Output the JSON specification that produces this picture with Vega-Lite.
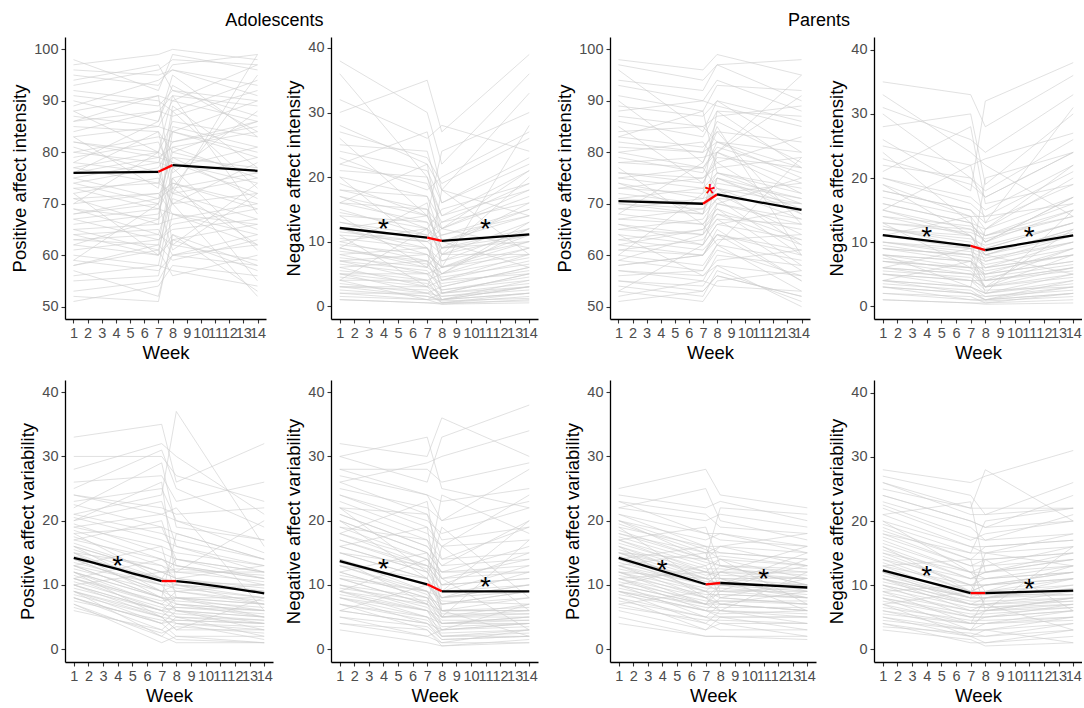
{
"$schema":"https://vega.github.io/schema/vega-lite/v6.json",
"padding":{"left":10,"top":12,"right":0,"bottom":0},
"autosize":{"type":"pad"},
"config":{"view":{"stroke":null},"font":"Liberation Sans",
"axis":{"grid":false,"domainColor":"black","domainWidth":1.3,"tickColor":"#333333","tickWidth":1.1,"tickSize":4,"labelFont":"Liberation Sans","labelFontSize":14.5,"labelColor":"#4d4d4d","labelPadding":3,"titleFont":"Liberation Sans","titleFontSize":18.5,"titleFontWeight":"normal","titleColor":"black"},
"axisX":{"titlePadding":3.5,"labelOverlap":false,"labelFlush":false},
"axisY":{"titlePadding":4,"labelOverlap":false},
"title":{"font":"Liberation Sans","fontSize":18,"fontWeight":"normal","color":"black","anchor":"middle","frame":"bounds","offset":7}},
"datasets":{
"wk":[{"k":"a","w":1},{"k":"b","w":7},{"k":"c","w":8},{"k":"d","w":14}],
"s":[
{"p":1,"g":"pre","w":1,"v":76.0},{"p":1,"g":"pre","w":7,"v":76.2},{"p":1,"g":"mid","w":7,"v":76.2},{"p":1,"g":"mid","w":8,"v":77.5},{"p":1,"g":"post","w":8,"v":77.5},{"p":1,"g":"post","w":14,"v":76.4},
{"p":2,"g":"pre","w":1,"v":12.1},{"p":2,"g":"pre","w":7,"v":10.6},{"p":2,"g":"mid","w":7,"v":10.6},{"p":2,"g":"mid","w":8,"v":10.1},{"p":2,"g":"post","w":8,"v":10.1},{"p":2,"g":"post","w":14,"v":11.1},
{"p":3,"g":"pre","w":1,"v":70.5},{"p":3,"g":"pre","w":7,"v":70.0},{"p":3,"g":"mid","w":7,"v":70.0},{"p":3,"g":"mid","w":8,"v":71.8},{"p":3,"g":"post","w":8,"v":71.8},{"p":3,"g":"post","w":14,"v":68.8},
{"p":4,"g":"pre","w":1,"v":11.1},{"p":4,"g":"pre","w":7,"v":9.4},{"p":4,"g":"mid","w":7,"v":9.4},{"p":4,"g":"mid","w":8,"v":8.75},{"p":4,"g":"post","w":8,"v":8.75},{"p":4,"g":"post","w":14,"v":11.05},
{"p":5,"g":"pre","w":1,"v":14.2},{"p":5,"g":"pre","w":2,"v":13.65},{"p":5,"g":"pre","w":3,"v":13.05},{"p":5,"g":"pre","w":4,"v":12.45},{"p":5,"g":"pre","w":5,"v":11.8},{"p":5,"g":"pre","w":6,"v":11.2},{"p":5,"g":"pre","w":7,"v":10.6},{"p":5,"g":"mid","w":7,"v":10.6},{"p":5,"g":"mid","w":8,"v":10.6},{"p":5,"g":"post","w":8,"v":10.6},{"p":5,"g":"post","w":9,"v":10.35},{"p":5,"g":"post","w":10,"v":10.05},{"p":5,"g":"post","w":11,"v":9.75},{"p":5,"g":"post","w":12,"v":9.4},{"p":5,"g":"post","w":13,"v":9.05},{"p":5,"g":"post","w":14,"v":8.7},
{"p":6,"g":"pre","w":1,"v":13.7},{"p":6,"g":"pre","w":7,"v":10.1},{"p":6,"g":"mid","w":7,"v":10.1},{"p":6,"g":"mid","w":8,"v":9.0},{"p":6,"g":"post","w":8,"v":9.0},{"p":6,"g":"post","w":14,"v":9.0},
{"p":7,"g":"pre","w":1,"v":14.2},{"p":7,"g":"pre","w":7,"v":10.1},{"p":7,"g":"mid","w":7,"v":10.1},{"p":7,"g":"mid","w":8,"v":10.3},{"p":7,"g":"post","w":8,"v":10.3},{"p":7,"g":"post","w":14,"v":9.6},
{"p":8,"g":"pre","w":1,"v":12.3},{"p":8,"g":"pre","w":7,"v":8.75},{"p":8,"g":"mid","w":7,"v":8.75},{"p":8,"g":"mid","w":8,"v":8.75},{"p":8,"g":"post","w":8,"v":8.75},{"p":8,"g":"post","w":14,"v":9.15}
],
"t":[
{"p":2,"w":4,"v":12.8,"c":"black"},{"p":2,"w":11,"v":12.8,"c":"black"},
{"p":3,"w":7.5,"v":73.1,"c":"red"},
{"p":4,"w":4,"v":11.8,"c":"black"},{"p":4,"w":11,"v":11.8,"c":"black"},
{"p":5,"w":4,"v":13.9,"c":"black"},
{"p":6,"w":4,"v":13.4,"c":"black"},{"p":6,"w":11,"v":10.6,"c":"black"},
{"p":7,"w":4,"v":13.2,"c":"black"},{"p":7,"w":11,"v":11.8,"c":"black"},
{"p":8,"w":4,"v":12.4,"c":"black"},{"p":8,"w":11,"v":10.3,"c":"black"}
],
"g":[
{"p":1,"i":1,"a":97,"b":99,"c":100,"d":98},{"p":1,"i":2,"a":95,"b":93,"c":97,"d":99},{"p":1,"i":3,"a":92,"b":90,"c":88,"d":94},{"p":1,"i":4,"a":89,"b":94,"c":96,"d":91},{"p":1,"i":5,"a":87,"b":85,"c":90,"d":97},{"p":1,"i":6,"a":85,"b":84,"c":80,"d":86},{"p":1,"i":7,"a":84,"b":88,"c":91,"d":89},{"p":1,"i":8,"a":82,"b":80,"c":86,"d":83},{"p":1,"i":9,"a":80,"b":78,"c":84,"d":79},{"p":1,"i":10,"a":79,"b":82,"c":76,"d":88},{"p":1,"i":11,"a":77,"b":74,"c":85,"d":81},{"p":1,"i":12,"a":76,"b":79,"c":78,"d":72},{"p":1,"i":13,"a":75,"b":71,"c":80,"d":76},{"p":1,"i":14,"a":74,"b":77,"c":82,"d":85},{"p":1,"i":15,"a":73,"b":69,"c":74,"d":70},{"p":1,"i":16,"a":72,"b":75,"c":70,"d":78},{"p":1,"i":17,"a":71,"b":66,"c":88,"d":73},{"p":1,"i":18,"a":70,"b":72,"c":68,"d":66},{"p":1,"i":19,"a":69,"b":64,"c":73,"d":62},{"p":1,"i":20,"a":68,"b":70,"c":81,"d":75},{"p":1,"i":21,"a":67,"b":63,"c":66,"d":69},{"p":1,"i":22,"a":66,"b":68,"c":79,"d":71},{"p":1,"i":23,"a":65,"b":61,"c":72,"d":67},{"p":1,"i":24,"a":64,"b":65,"c":60,"d":64},{"p":1,"i":25,"a":63,"b":62,"c":77,"d":61},{"p":1,"i":26,"a":62,"b":60,"c":64,"d":58},{"p":1,"i":27,"a":60,"b":58,"c":71,"d":65},{"p":1,"i":28,"a":58,"b":61,"c":56,"d":60},{"p":1,"i":29,"a":57,"b":52,"c":63,"d":57},{"p":1,"i":30,"a":55,"b":56,"c":68,"d":62},{"p":1,"i":31,"a":52,"b":51,"c":64,"d":53},{"p":1,"i":32,"a":51,"b":54,"c":58,"d":56},{"p":1,"i":33,"a":94,"b":97,"c":92,"d":87},{"p":1,"i":34,"a":90,"b":86,"c":95,"d":83},{"p":1,"i":35,"a":86,"b":91,"c":73,"d":95},{"p":1,"i":36,"a":83,"b":73,"c":89,"d":77},{"p":1,"i":37,"a":78,"b":86,"c":93,"d":84},{"p":1,"i":38,"a":98,"b":92,"c":99,"d":96},{"p":1,"i":39,"a":81,"b":76,"c":70,"d":52},{"p":1,"i":40,"a":62,"b":67,"c":84,"d":90},{"p":1,"i":41,"a":70,"b":80,"c":62,"d":74},{"p":1,"i":42,"a":76,"b":84,"c":72,"d":99},{"p":1,"i":43,"a":88,"b":80,"c":91,"d":68},{"p":1,"i":44,"a":59,"b":70,"c":61,"d":72},{"p":1,"i":45,"a":72,"b":60,"c":75,"d":55},
{"p":1,"i":46,"a":96,"b":95,"c":96,"d":93},{"p":1,"i":47,"a":93,"b":96,"c":98,"d":97},{"p":1,"i":48,"a":91,"b":89,"c":92,"d":90},{"p":1,"i":49,"a":86,"b":88,"c":87,"d":92},{"p":1,"i":50,"a":83,"b":85,"c":84,"d":80},{"p":1,"i":51,"a":80,"b":83,"c":82,"d":86},{"p":1,"i":52,"a":78,"b":76,"c":79,"d":77},{"p":1,"i":53,"a":75,"b":78,"c":77,"d":81},{"p":1,"i":54,"a":73,"b":74,"c":72,"d":75},{"p":1,"i":55,"a":71,"b":72,"c":74,"d":69},{"p":1,"i":56,"a":69,"b":67,"c":70,"d":72},{"p":1,"i":57,"a":67,"b":69,"c":68,"d":64},{"p":1,"i":58,"a":65,"b":66,"c":67,"d":70},{"p":1,"i":59,"a":63,"b":64,"c":62,"d":59},{"p":1,"i":60,"a":61,"b":63,"c":65,"d":67},{"p":1,"i":61,"a":59,"b":57,"c":60,"d":62},{"p":1,"i":62,"a":56,"b":58,"c":57,"d":54},{"p":1,"i":63,"a":53,"b":55,"c":60,"d":58},{"p":1,"i":64,"a":82,"b":79,"c":81,"d":84},{"p":1,"i":65,"a":77,"b":80,"c":78,"d":74},{"p":1,"i":66,"a":74,"b":70,"c":75,"d":79},{"p":1,"i":67,"a":68,"b":71,"c":73,"d":76},{"p":1,"i":68,"a":64,"b":60,"c":63,"d":66},{"p":1,"i":69,"a":88,"b":91,"c":90,"d":86},{"p":1,"i":70,"a":58,"b":62,"c":59,"d":63},
{"p":2,"i":1,"a":38,"b":30,"c":22,"d":36},{"p":2,"i":2,"a":32,"b":26,"c":28,"d":24},{"p":2,"i":3,"a":28,"b":22,"c":18,"d":33},{"p":2,"i":4,"a":25,"b":24,"c":16,"d":22},{"p":2,"i":5,"a":23,"b":18,"c":20,"d":27},{"p":2,"i":6,"a":21,"b":20,"c":14,"d":18},{"p":2,"i":7,"a":19,"b":14,"c":12,"d":21},{"p":2,"i":8,"a":18,"b":17,"c":10,"d":15},{"p":2,"i":9,"a":17,"b":12,"c":15,"d":19},{"p":2,"i":10,"a":16,"b":15,"c":8,"d":13},{"p":2,"i":11,"a":15,"b":11,"c":13,"d":16},{"p":2,"i":12,"a":14,"b":13,"c":7,"d":12},{"p":2,"i":13,"a":13,"b":10,"c":11,"d":14},{"p":2,"i":14,"a":12,"b":14,"c":9,"d":10},{"p":2,"i":15,"a":12,"b":8,"c":6,"d":11},{"p":2,"i":16,"a":11,"b":10,"c":12,"d":9},{"p":2,"i":17,"a":10,"b":7,"c":5,"d":13},{"p":2,"i":18,"a":10,"b":12,"c":8,"d":8},{"p":2,"i":19,"a":9,"b":6,"c":9,"d":11},{"p":2,"i":20,"a":8,"b":9,"c":4,"d":7},{"p":2,"i":21,"a":8,"b":5,"c":6,"d":10},{"p":2,"i":22,"a":7,"b":8,"c":3,"d":6},{"p":2,"i":23,"a":7,"b":4,"c":5,"d":9},{"p":2,"i":24,"a":6,"b":7,"c":2,"d":5},{"p":2,"i":25,"a":6,"b":3,"c":4,"d":8},{"p":2,"i":26,"a":5,"b":5,"c":1,"d":4},{"p":2,"i":27,"a":5,"b":2,"c":3,"d":6},{"p":2,"i":28,"a":4,"b":4,"c":1,"d":3},{"p":2,"i":29,"a":4,"b":1,"c":2,"d":5},{"p":2,"i":30,"a":3,"b":3,"c":0.5,"d":2},{"p":2,"i":31,"a":3,"b":1.5,"c":1,"d":3},{"p":2,"i":32,"a":2,"b":2,"c":0.5,"d":1.5},{"p":2,"i":33,"a":2,"b":1,"c":1,"d":2},{"p":2,"i":34,"a":1.5,"b":1,"c":0.3,"d":1},{"p":2,"i":35,"a":1,"b":0.5,"c":0.5,"d":0.8},{"p":2,"i":36,"a":36,"b":20,"c":12,"d":18},{"p":2,"i":37,"a":30,"b":35,"c":27,"d":39},{"p":2,"i":38,"a":26,"b":14,"c":24,"d":30},{"p":2,"i":39,"a":22,"b":27,"c":18,"d":14},{"p":2,"i":40,"a":9,"b":16,"c":6,"d":28},{"p":2,"i":41,"a":14,"b":6,"c":18,"d":8},{"p":2,"i":42,"a":20,"b":9,"c":5,"d":12},{"p":2,"i":43,"a":4,"b":12,"c":2,"d":3},{"p":2,"i":44,"a":11,"b":3,"c":8,"d":20},{"p":2,"i":45,"a":16,"b":22,"c":10,"d":6},
{"p":2,"i":46,"a":1,"b":0.5,"c":0.3,"d":0.5},{"p":2,"i":47,"a":2.5,"b":1.5,"c":0.8,"d":1.2},{"p":2,"i":48,"a":3.5,"b":2,"c":1.5,"d":2.5},{"p":2,"i":49,"a":4.5,"b":3,"c":2,"d":3.5},{"p":2,"i":50,"a":5.5,"b":4,"c":2.5,"d":4.5},{"p":2,"i":51,"a":6.5,"b":5,"c":3.5,"d":5.5},{"p":2,"i":52,"a":7.5,"b":6,"c":4.5,"d":6.5},{"p":2,"i":53,"a":8.5,"b":7,"c":5,"d":7.5},{"p":2,"i":54,"a":9.5,"b":8,"c":6,"d":9},{"p":2,"i":55,"a":10.5,"b":9,"c":7,"d":10},{"p":2,"i":56,"a":11.5,"b":10,"c":8,"d":11},{"p":2,"i":57,"a":13,"b":11,"c":9,"d":12},{"p":2,"i":58,"a":14.5,"b":12,"c":10,"d":14},{"p":2,"i":59,"a":16,"b":13,"c":11,"d":15},{"p":2,"i":60,"a":18,"b":15,"c":12,"d":17},{"p":2,"i":61,"a":20,"b":17,"c":13,"d":19},{"p":2,"i":62,"a":22,"b":19,"c":14,"d":21},{"p":2,"i":63,"a":24,"b":21,"c":16,"d":23},{"p":2,"i":64,"a":3,"b":2.5,"c":1,"d":2},{"p":2,"i":65,"a":5,"b":3.5,"c":1.5,"d":3},{"p":2,"i":66,"a":7,"b":5.5,"c":2.5,"d":4},{"p":2,"i":67,"a":9,"b":6.5,"c":4,"d":5},{"p":2,"i":68,"a":12,"b":9,"c":6,"d":8},{"p":2,"i":69,"a":17,"b":14,"c":9,"d":16},{"p":2,"i":70,"a":27,"b":23,"c":19,"d":26},
{"p":3,"i":1,"a":98,"b":96,"c":99,"d":95},{"p":3,"i":2,"a":94,"b":92,"c":97,"d":90},{"p":3,"i":3,"a":91,"b":88,"c":93,"d":92},{"p":3,"i":4,"a":88,"b":90,"c":89,"d":85},{"p":3,"i":5,"a":86,"b":83,"c":88,"d":87},{"p":3,"i":6,"a":84,"b":85,"c":82,"d":80},{"p":3,"i":7,"a":82,"b":80,"c":86,"d":78},{"p":3,"i":8,"a":80,"b":82,"c":78,"d":83},{"p":3,"i":9,"a":79,"b":76,"c":82,"d":75},{"p":3,"i":10,"a":78,"b":79,"c":80,"d":72},{"p":3,"i":11,"a":76,"b":74,"c":79,"d":77},{"p":3,"i":12,"a":75,"b":77,"c":73,"d":70},{"p":3,"i":13,"a":74,"b":71,"c":76,"d":73},{"p":3,"i":14,"a":73,"b":75,"c":78,"d":68},{"p":3,"i":15,"a":72,"b":70,"c":74,"d":71},{"p":3,"i":16,"a":71,"b":73,"c":70,"d":66},{"p":3,"i":17,"a":70,"b":68,"c":75,"d":69},{"p":3,"i":18,"a":69,"b":71,"c":72,"d":64},{"p":3,"i":19,"a":68,"b":66,"c":70,"d":67},{"p":3,"i":20,"a":67,"b":69,"c":73,"d":62},{"p":3,"i":21,"a":66,"b":64,"c":68,"d":65},{"p":3,"i":22,"a":65,"b":67,"c":71,"d":60},{"p":3,"i":23,"a":64,"b":62,"c":66,"d":63},{"p":3,"i":24,"a":63,"b":65,"c":69,"d":58},{"p":3,"i":25,"a":62,"b":60,"c":64,"d":61},{"p":3,"i":26,"a":61,"b":63,"c":67,"d":57},{"p":3,"i":27,"a":60,"b":58,"c":62,"d":59},{"p":3,"i":28,"a":58,"b":60,"c":65,"d":55},{"p":3,"i":29,"a":57,"b":55,"c":60,"d":58},{"p":3,"i":30,"a":56,"b":57,"c":62,"d":53},{"p":3,"i":31,"a":55,"b":54,"c":58,"d":56},{"p":3,"i":32,"a":54,"b":52,"c":57,"d":51},{"p":3,"i":33,"a":52,"b":55,"c":54,"d":53},{"p":3,"i":34,"a":51,"b":53,"c":56,"d":52},{"p":3,"i":35,"a":90,"b":78,"c":84,"d":66},{"p":3,"i":36,"a":85,"b":74,"c":80,"d":91},{"p":3,"i":37,"a":60,"b":72,"c":88,"d":77},{"p":3,"i":38,"a":77,"b":66,"c":62,"d":79},{"p":3,"i":39,"a":68,"b":78,"c":85,"d":60},{"p":3,"i":40,"a":53,"b":62,"c":70,"d":75},{"p":3,"i":41,"a":83,"b":88,"c":76,"d":70},{"p":3,"i":42,"a":74,"b":68,"c":80,"d":95},{"p":3,"i":43,"a":64,"b":56,"c":58,"d":50},{"p":3,"i":44,"a":96,"b":84,"c":90,"d":80},{"p":3,"i":45,"a":59,"b":64,"c":75,"d":68},
{"p":3,"i":46,"a":97,"b":94,"c":97,"d":98},{"p":3,"i":47,"a":93,"b":90,"c":94,"d":88},{"p":3,"i":48,"a":89,"b":87,"c":90,"d":86},{"p":3,"i":49,"a":87,"b":85,"c":87,"d":89},{"p":3,"i":50,"a":83,"b":81,"c":84,"d":82},{"p":3,"i":51,"a":81,"b":80,"c":82,"d":77},{"p":3,"i":52,"a":78,"b":77,"c":80,"d":74},{"p":3,"i":53,"a":76,"b":75,"c":77,"d":79},{"p":3,"i":54,"a":73,"b":72,"c":75,"d":71},{"p":3,"i":55,"a":71,"b":70,"c":73,"d":67},{"p":3,"i":56,"a":69,"b":68,"c":71,"d":70},{"p":3,"i":57,"a":67,"b":66,"c":69,"d":63},{"p":3,"i":58,"a":65,"b":64,"c":67,"d":66},{"p":3,"i":59,"a":63,"b":61,"c":64,"d":60},{"p":3,"i":60,"a":61,"b":60,"c":63,"d":64},{"p":3,"i":61,"a":59,"b":57,"c":61,"d":56},{"p":3,"i":62,"a":57,"b":56,"c":59,"d":61},{"p":3,"i":63,"a":55,"b":53,"c":56,"d":52},{"p":3,"i":64,"a":53,"b":51,"c":55,"d":57},{"p":3,"i":65,"a":80,"b":77,"c":81,"d":76},{"p":3,"i":66,"a":75,"b":73,"c":76,"d":72},{"p":3,"i":67,"a":70,"b":69,"c":72,"d":74},{"p":3,"i":68,"a":66,"b":62,"c":66,"d":69},{"p":3,"i":69,"a":62,"b":65,"c":68,"d":62},{"p":3,"i":70,"a":58,"b":60,"c":64,"d":55},
{"p":4,"i":1,"a":35,"b":33,"c":28,"d":36},{"p":4,"i":2,"a":31,"b":26,"c":24,"d":33},{"p":4,"i":3,"a":28,"b":30,"c":19,"d":30},{"p":4,"i":4,"a":25,"b":22,"c":23,"d":27},{"p":4,"i":5,"a":22,"b":20,"c":17,"d":24},{"p":4,"i":6,"a":20,"b":17,"c":15,"d":22},{"p":4,"i":7,"a":18,"b":15,"c":12,"d":20},{"p":4,"i":8,"a":17,"b":14,"c":14,"d":16},{"p":4,"i":9,"a":16,"b":13,"c":10,"d":17},{"p":4,"i":10,"a":15,"b":12,"c":11,"d":14},{"p":4,"i":11,"a":14,"b":11,"c":9,"d":13},{"p":4,"i":12,"a":13,"b":12,"c":10,"d":15},{"p":4,"i":13,"a":12,"b":10,"c":8,"d":12},{"p":4,"i":14,"a":12,"b":11,"c":7,"d":11},{"p":4,"i":15,"a":11,"b":9,"c":9,"d":13},{"p":4,"i":16,"a":10,"b":8,"c":6,"d":10},{"p":4,"i":17,"a":10,"b":9,"c":8,"d":11},{"p":4,"i":18,"a":9,"b":7,"c":5,"d":9},{"p":4,"i":19,"a":9,"b":8,"c":7,"d":10},{"p":4,"i":20,"a":8,"b":6,"c":6,"d":8},{"p":4,"i":21,"a":8,"b":7,"c":4,"d":9},{"p":4,"i":22,"a":7,"b":5,"c":5,"d":7},{"p":4,"i":23,"a":7,"b":6,"c":3,"d":8},{"p":4,"i":24,"a":6,"b":4,"c":4,"d":6},{"p":4,"i":25,"a":6,"b":5,"c":3,"d":6},{"p":4,"i":26,"a":5,"b":3,"c":2,"d":5},{"p":4,"i":27,"a":5,"b":4,"c":2,"d":4},{"p":4,"i":28,"a":4,"b":2,"c":1,"d":4},{"p":4,"i":29,"a":4,"b":3,"c":1.5,"d":3},{"p":4,"i":30,"a":3,"b":2,"c":1,"d":3},{"p":4,"i":31,"a":3,"b":1,"c":1,"d":2},{"p":4,"i":32,"a":2,"b":1.5,"c":0.5,"d":2},{"p":4,"i":33,"a":1,"b":0.5,"c":0.5,"d":1},{"p":4,"i":34,"a":33,"b":24,"c":22,"d":14},{"p":4,"i":35,"a":26,"b":18,"c":32,"d":38},{"p":4,"i":36,"a":21,"b":28,"c":16,"d":19},{"p":4,"i":37,"a":15,"b":22,"c":13,"d":31},{"p":4,"i":38,"a":13,"b":6,"c":20,"d":24},{"p":4,"i":39,"a":11,"b":14,"c":4,"d":6},{"p":4,"i":40,"a":8,"b":3,"c":12,"d":22},{"p":4,"i":41,"a":19,"b":11,"c":8,"d":5},{"p":4,"i":42,"a":24,"b":13,"c":10,"d":17},{"p":4,"i":43,"a":6,"b":9,"c":2,"d":15},{"p":4,"i":44,"a":4,"b":7,"c":3,"d":12},{"p":4,"i":45,"a":30,"b":20,"c":18,"d":26},
{"p":4,"i":46,"a":1,"b":0.5,"c":0.3,"d":0.5},{"p":4,"i":47,"a":2,"b":1,"c":0.8,"d":1.5},{"p":4,"i":48,"a":3,"b":2,"c":1.5,"d":2.5},{"p":4,"i":49,"a":4,"b":3,"c":2,"d":3.5},{"p":4,"i":50,"a":5,"b":4,"c":3,"d":4.5},{"p":4,"i":51,"a":6,"b":5,"c":4,"d":5.5},{"p":4,"i":52,"a":7,"b":6,"c":5,"d":7},{"p":4,"i":53,"a":8,"b":7,"c":5.5,"d":8},{"p":4,"i":54,"a":9,"b":8,"c":6.5,"d":9},{"p":4,"i":55,"a":10,"b":8.5,"c":7.5,"d":10},{"p":4,"i":56,"a":11,"b":9.5,"c":8.5,"d":11.5},{"p":4,"i":57,"a":12,"b":10.5,"c":9.5,"d":13},{"p":4,"i":58,"a":13,"b":11.5,"c":10.5,"d":14},{"p":4,"i":59,"a":14,"b":12.5,"c":11,"d":15},{"p":4,"i":60,"a":16,"b":13,"c":12,"d":17},{"p":4,"i":61,"a":18,"b":15,"c":13,"d":19},{"p":4,"i":62,"a":20,"b":16,"c":14,"d":21},{"p":4,"i":63,"a":23,"b":19,"c":17,"d":24},{"p":4,"i":64,"a":3.5,"b":2.5,"c":1,"d":2},{"p":4,"i":65,"a":5.5,"b":4.5,"c":2.5,"d":3},{"p":4,"i":66,"a":7.5,"b":5.5,"c":3,"d":5},{"p":4,"i":67,"a":9.5,"b":7.5,"c":4.5,"d":6.5},{"p":4,"i":68,"a":12.5,"b":9,"c":6,"d":8},{"p":4,"i":69,"a":15,"b":11,"c":8,"d":12},{"p":4,"i":70,"a":19,"b":14,"c":11,"d":16},
{"p":5,"i":1,"a":33,"b":35,"c":26,"d":32},{"p":5,"i":2,"a":30,"b":30,"c":27,"d":23},{"p":5,"i":3,"a":28,"b":32,"c":30,"d":21},{"p":5,"i":4,"a":26,"b":27,"c":23,"d":26},{"p":5,"i":5,"a":25,"b":31,"c":25,"d":19},{"p":5,"i":6,"a":24,"b":22,"c":21,"d":22},{"p":5,"i":7,"a":23,"b":25,"c":20,"d":15},{"p":5,"i":8,"a":22,"b":29,"c":19,"d":17},{"p":5,"i":9,"a":21,"b":18,"c":17,"d":14},{"p":5,"i":10,"a":20,"b":23,"c":16,"d":12},{"p":5,"i":11,"a":19,"b":16,"c":15,"d":13},{"p":5,"i":12,"a":18,"b":19,"c":14,"d":11},{"p":5,"i":13,"a":17,"b":14,"c":13,"d":10},{"p":5,"i":14,"a":16,"b":12,"c":12,"d":12},{"p":5,"i":15,"a":15,"b":13,"c":11,"d":9},{"p":5,"i":16,"a":15,"b":10,"c":10,"d":8},{"p":5,"i":17,"a":14,"b":11,"c":9,"d":10},{"p":5,"i":18,"a":14,"b":9,"c":10,"d":7},{"p":5,"i":19,"a":13,"b":8,"c":8,"d":8},{"p":5,"i":20,"a":13,"b":10,"c":7,"d":6},{"p":5,"i":21,"a":12,"b":7,"c":9,"d":7},{"p":5,"i":22,"a":12,"b":8,"c":6,"d":5},{"p":5,"i":23,"a":11,"b":6,"c":8,"d":6},{"p":5,"i":24,"a":11,"b":7,"c":5,"d":4},{"p":5,"i":25,"a":10,"b":5,"c":7,"d":5},{"p":5,"i":26,"a":10,"b":6,"c":4,"d":3},{"p":5,"i":27,"a":9,"b":4,"c":6,"d":4},{"p":5,"i":28,"a":9,"b":5,"c":3,"d":3},{"p":5,"i":29,"a":8,"b":3,"c":5,"d":2},{"p":5,"i":30,"a":8,"b":4,"c":2,"d":2},{"p":5,"i":31,"a":7,"b":2,"c":4,"d":1.5},{"p":5,"i":32,"a":7,"b":1,"c":2,"d":1},{"p":5,"i":33,"a":6,"b":3,"c":1.5,"d":1},{"p":5,"i":34,"a":21,"b":24,"c":37,"d":16},{"p":5,"i":35,"a":20,"b":26,"c":10,"d":9},{"p":5,"i":36,"a":19,"b":21,"c":22,"d":6},{"p":5,"i":37,"a":11,"b":14,"c":12,"d":20},{"p":5,"i":38,"a":15,"b":8,"c":18,"d":14},{"p":5,"i":39,"a":12,"b":5,"c":3,"d":8},{"p":5,"i":40,"a":17,"b":20,"c":13,"d":11},{"p":5,"i":41,"a":13,"b":16,"c":8,"d":5},{"p":5,"i":42,"a":10,"b":12,"c":11,"d":13},{"p":5,"i":43,"a":16,"b":9,"c":6,"d":3},{"p":5,"i":44,"a":18,"b":11,"c":14,"d":12},{"p":5,"i":45,"a":9,"b":2,"c":1,"d":1},
{"p":5,"i":46,"a":14,"b":9,"c":8,"d":7},{"p":5,"i":47,"a":13,"b":8,"c":7,"d":6},{"p":5,"i":48,"a":12,"b":8,"c":7.5,"d":6.5},{"p":5,"i":49,"a":11.5,"b":7,"c":6.5,"d":5.5},{"p":5,"i":50,"a":10.5,"b":6.5,"c":6,"d":5},{"p":5,"i":51,"a":9.5,"b":6,"c":5.5,"d":4.5},{"p":5,"i":52,"a":8.5,"b":5,"c":4.5,"d":4},{"p":5,"i":53,"a":7.5,"b":4.5,"c":4,"d":3.5},{"p":5,"i":54,"a":15.5,"b":11,"c":10,"d":9},{"p":5,"i":55,"a":16.5,"b":12,"c":11,"d":9.5},{"p":5,"i":56,"a":17.5,"b":13,"c":12,"d":10.5},{"p":5,"i":57,"a":18.5,"b":14,"c":13,"d":11},{"p":5,"i":58,"a":19.5,"b":15,"c":14,"d":12},{"p":5,"i":59,"a":13.5,"b":10,"c":9.5,"d":8},{"p":5,"i":60,"a":12.5,"b":9,"c":9,"d":7.5},{"p":5,"i":61,"a":11,"b":7.5,"c":8,"d":7},{"p":5,"i":62,"a":10,"b":6,"c":6.5,"d":6},{"p":5,"i":63,"a":9,"b":5.5,"c":5,"d":4.5},{"p":5,"i":64,"a":8,"b":4,"c":4.5,"d":4},{"p":5,"i":65,"a":20.5,"b":17,"c":16,"d":13},{"p":5,"i":66,"a":22.5,"b":19,"c":18,"d":14},{"p":5,"i":67,"a":14.5,"b":11,"c":10.5,"d":10},{"p":5,"i":68,"a":16,"b":12,"c":12.5,"d":11.5},{"p":5,"i":69,"a":6.5,"b":2.5,"c":3.5,"d":2.5},{"p":5,"i":70,"a":24,"b":21,"c":20,"d":17},
{"p":6,"i":1,"a":32,"b":30,"c":36,"d":30},{"p":6,"i":2,"a":30,"b":26,"c":33,"d":38},{"p":6,"i":3,"a":28,"b":28,"c":26,"d":29},{"p":6,"i":4,"a":27,"b":24,"c":23,"d":25},{"p":6,"i":5,"a":25,"b":22,"c":20,"d":28},{"p":6,"i":6,"a":24,"b":20,"c":18,"d":22},{"p":6,"i":7,"a":23,"b":18,"c":16,"d":24},{"p":6,"i":8,"a":22,"b":21,"c":14,"d":19},{"p":6,"i":9,"a":21,"b":16,"c":13,"d":20},{"p":6,"i":10,"a":20,"b":15,"c":12,"d":16},{"p":6,"i":11,"a":19,"b":17,"c":11,"d":14},{"p":6,"i":12,"a":18,"b":14,"c":10,"d":15},{"p":6,"i":13,"a":17,"b":13,"c":12,"d":12},{"p":6,"i":14,"a":16,"b":12,"c":9,"d":13},{"p":6,"i":15,"a":15,"b":11,"c":8,"d":10},{"p":6,"i":16,"a":15,"b":13,"c":10,"d":11},{"p":6,"i":17,"a":14,"b":10,"c":7,"d":9},{"p":6,"i":18,"a":13,"b":9,"c":8,"d":10},{"p":6,"i":19,"a":13,"b":11,"c":6,"d":8},{"p":6,"i":20,"a":12,"b":8,"c":7,"d":9},{"p":6,"i":21,"a":11,"b":9,"c":5,"d":7},{"p":6,"i":22,"a":11,"b":7,"c":6,"d":6},{"p":6,"i":23,"a":10,"b":8,"c":4,"d":5},{"p":6,"i":24,"a":10,"b":6,"c":5,"d":6},{"p":6,"i":25,"a":9,"b":7,"c":3,"d":4},{"p":6,"i":26,"a":9,"b":5,"c":4,"d":5},{"p":6,"i":27,"a":8,"b":6,"c":2,"d":3},{"p":6,"i":28,"a":8,"b":4,"c":3,"d":4},{"p":6,"i":29,"a":7,"b":5,"c":2,"d":2},{"p":6,"i":30,"a":7,"b":3,"c":1,"d":3},{"p":6,"i":31,"a":6,"b":4,"c":1.5,"d":2},{"p":6,"i":32,"a":5,"b":2,"c":1,"d":1},{"p":6,"i":33,"a":4,"b":3,"c":0.5,"d":1.5},{"p":6,"i":34,"a":3,"b":1,"c":0.5,"d":1},{"p":6,"i":35,"a":30,"b":33,"c":25,"d":22},{"p":6,"i":36,"a":26,"b":29,"c":30,"d":34},{"p":6,"i":37,"a":22,"b":12,"c":24,"d":18},{"p":6,"i":38,"a":18,"b":23,"c":9,"d":20},{"p":6,"i":39,"a":14,"b":7,"c":16,"d":6},{"p":6,"i":40,"a":12,"b":15,"c":5,"d":17},{"p":6,"i":41,"a":9,"b":14,"c":11,"d":3},{"p":6,"i":42,"a":6,"b":10,"c":8,"d":12},{"p":6,"i":43,"a":20,"b":11,"c":19,"d":8},{"p":6,"i":44,"a":16,"b":19,"c":6,"d":2},{"p":6,"i":45,"a":4,"b":2,"c":3,"d":7},
{"p":6,"i":46,"a":14,"b":9,"c":6,"d":6},{"p":6,"i":47,"a":13,"b":8.5,"c":5.5,"d":5.5},{"p":6,"i":48,"a":12,"b":8,"c":5,"d":5},{"p":6,"i":49,"a":11,"b":7,"c":4.5,"d":4.5},{"p":6,"i":50,"a":10,"b":6.5,"c":4,"d":4},{"p":6,"i":51,"a":9,"b":6,"c":3.5,"d":4},{"p":6,"i":52,"a":8,"b":5,"c":3,"d":3.5},{"p":6,"i":53,"a":7,"b":4.5,"c":2.5,"d":3},{"p":6,"i":54,"a":6,"b":4,"c":2,"d":2.5},{"p":6,"i":55,"a":5,"b":3.5,"c":1.5,"d":2},{"p":6,"i":56,"a":15,"b":11,"c":7,"d":8},{"p":6,"i":57,"a":16,"b":12,"c":8,"d":9},{"p":6,"i":58,"a":17,"b":12.5,"c":9,"d":10},{"p":6,"i":59,"a":18,"b":13,"c":10,"d":11},{"p":6,"i":60,"a":19,"b":14,"c":11,"d":12},{"p":6,"i":61,"a":20,"b":15,"c":12,"d":13},{"p":6,"i":62,"a":21,"b":16,"c":13,"d":14},{"p":6,"i":63,"a":22,"b":17,"c":14,"d":15},{"p":6,"i":64,"a":24,"b":19,"c":16,"d":17},{"p":6,"i":65,"a":26,"b":21,"c":17,"d":19},{"p":6,"i":66,"a":13.5,"b":10,"c":7.5,"d":7},{"p":6,"i":67,"a":11.5,"b":9,"c":6,"d":6.5},{"p":6,"i":68,"a":9.5,"b":7.5,"c":5,"d":5.5},{"p":6,"i":69,"a":8.5,"b":6,"c":4,"d":4.5},{"p":6,"i":70,"a":28,"b":24,"c":20,"d":23},
{"p":7,"i":1,"a":25,"b":28,"c":24,"d":22},{"p":7,"i":2,"a":24,"b":22,"c":23,"d":20},{"p":7,"i":3,"a":23,"b":21,"c":19,"d":18},{"p":7,"i":4,"a":22,"b":20,"c":21,"d":19},{"p":7,"i":5,"a":21,"b":18,"c":17,"d":16},{"p":7,"i":6,"a":20,"b":17,"c":18,"d":15},{"p":7,"i":7,"a":19,"b":16,"c":15,"d":14},{"p":7,"i":8,"a":18,"b":15,"c":16,"d":13},{"p":7,"i":9,"a":18,"b":14,"c":13,"d":12},{"p":7,"i":10,"a":17,"b":13,"c":14,"d":11},{"p":7,"i":11,"a":16,"b":12,"c":12,"d":12},{"p":7,"i":12,"a":16,"b":11,"c":13,"d":10},{"p":7,"i":13,"a":15,"b":12,"c":11,"d":11},{"p":7,"i":14,"a":15,"b":10,"c":12,"d":9},{"p":7,"i":15,"a":14,"b":11,"c":10,"d":10},{"p":7,"i":16,"a":14,"b":9,"c":11,"d":8},{"p":7,"i":17,"a":13,"b":10,"c":9,"d":9},{"p":7,"i":18,"a":13,"b":8,"c":10,"d":8},{"p":7,"i":19,"a":12,"b":9,"c":8,"d":7},{"p":7,"i":20,"a":12,"b":7,"c":9,"d":8},{"p":7,"i":21,"a":11,"b":8,"c":7,"d":6},{"p":7,"i":22,"a":11,"b":6,"c":8,"d":7},{"p":7,"i":23,"a":10,"b":7,"c":6,"d":5},{"p":7,"i":24,"a":10,"b":5,"c":7,"d":6},{"p":7,"i":25,"a":9,"b":6,"c":5,"d":5},{"p":7,"i":26,"a":9,"b":4,"c":6,"d":4},{"p":7,"i":27,"a":8,"b":5,"c":4,"d":4},{"p":7,"i":28,"a":8,"b":3,"c":5,"d":3},{"p":7,"i":29,"a":7,"b":4,"c":3,"d":3},{"p":7,"i":30,"a":6,"b":3,"c":4,"d":2},{"p":7,"i":31,"a":5,"b":2,"c":2,"d":2},{"p":7,"i":32,"a":4,"b":2,"c":2,"d":1.5},{"p":7,"i":33,"a":22,"b":25,"c":20,"d":17},{"p":7,"i":34,"a":20,"b":14,"c":22,"d":21},{"p":7,"i":35,"a":17,"b":19,"c":13,"d":10},{"p":7,"i":36,"a":15,"b":14,"c":16,"d":18},{"p":7,"i":37,"a":13,"b":15,"c":9,"d":14},{"p":7,"i":38,"a":11,"b":12,"c":14,"d":7},{"p":7,"i":39,"a":19,"b":10,"c":12,"d":16},{"p":7,"i":40,"a":16,"b":8,"c":6,"d":12},{"p":7,"i":41,"a":12,"b":11,"c":10,"d":13},{"p":7,"i":42,"a":10,"b":13,"c":8,"d":11},{"p":7,"i":43,"a":9,"b":7,"c":10,"d":15},{"p":7,"i":44,"a":7,"b":9,"c":7,"d":9},{"p":7,"i":45,"a":14,"b":16,"c":11,"d":6},
{"p":7,"i":46,"a":15,"b":11,"c":11,"d":10},{"p":7,"i":47,"a":14.5,"b":10.5,"c":10.5,"d":9.5},{"p":7,"i":48,"a":13.5,"b":10,"c":10,"d":9},{"p":7,"i":49,"a":12.5,"b":9.5,"c":9.5,"d":8.5},{"p":7,"i":50,"a":11.5,"b":8.5,"c":8.5,"d":8},{"p":7,"i":51,"a":10.5,"b":7.5,"c":7.5,"d":7},{"p":7,"i":52,"a":9.5,"b":6.5,"c":6.5,"d":6.5},{"p":7,"i":53,"a":8.5,"b":6,"c":6,"d":5.5},{"p":7,"i":54,"a":7.5,"b":5,"c":5,"d":5},{"p":7,"i":55,"a":6.5,"b":4.5,"c":4.5,"d":4},{"p":7,"i":56,"a":16.5,"b":12.5,"c":12.5,"d":11.5},{"p":7,"i":57,"a":17.5,"b":13.5,"c":13,"d":12.5},{"p":7,"i":58,"a":18.5,"b":14,"c":14.5,"d":13},{"p":7,"i":59,"a":19.5,"b":15,"c":15,"d":14},{"p":7,"i":60,"a":21,"b":16,"c":16,"d":15},{"p":7,"i":61,"a":14,"b":10,"c":10,"d":10},{"p":7,"i":62,"a":13,"b":9,"c":9,"d":9.5},{"p":7,"i":63,"a":12,"b":8,"c":8.5,"d":8},{"p":7,"i":64,"a":11,"b":7,"c":7.5,"d":7.5},{"p":7,"i":65,"a":10,"b":7,"c":7,"d":6},{"p":7,"i":66,"a":23,"b":18,"c":18,"d":16},{"p":7,"i":67,"a":17,"b":12,"c":11.5,"d":11},{"p":7,"i":68,"a":15.5,"b":11.5,"c":12,"d":11},{"p":7,"i":69,"a":9,"b":6,"c":5.5,"d":6},{"p":7,"i":70,"a":20,"b":15.5,"c":14,"d":13},
{"p":8,"i":1,"a":28,"b":26,"c":27,"d":31},{"p":8,"i":2,"a":27,"b":24,"c":21,"d":26},{"p":8,"i":3,"a":25,"b":22,"c":22,"d":22},{"p":8,"i":4,"a":24,"b":20,"c":19,"d":24},{"p":8,"i":5,"a":23,"b":19,"c":17,"d":21},{"p":8,"i":6,"a":22,"b":17,"c":18,"d":20},{"p":8,"i":7,"a":20,"b":16,"c":15,"d":18},{"p":8,"i":8,"a":19,"b":14,"c":16,"d":17},{"p":8,"i":9,"a":18,"b":13,"c":14,"d":15},{"p":8,"i":10,"a":17,"b":12,"c":13,"d":16},{"p":8,"i":11,"a":16,"b":11,"c":12,"d":14},{"p":8,"i":12,"a":15,"b":12,"c":11,"d":13},{"p":8,"i":13,"a":15,"b":10,"c":10,"d":12},{"p":8,"i":14,"a":14,"b":11,"c":12,"d":14},{"p":8,"i":15,"a":14,"b":9,"c":9,"d":11},{"p":8,"i":16,"a":13,"b":10,"c":11,"d":12},{"p":8,"i":17,"a":13,"b":8,"c":8,"d":10},{"p":8,"i":18,"a":12,"b":9,"c":10,"d":11},{"p":8,"i":19,"a":12,"b":7,"c":7,"d":9},{"p":8,"i":20,"a":11,"b":8,"c":9,"d":10},{"p":8,"i":21,"a":11,"b":6,"c":6,"d":8},{"p":8,"i":22,"a":10,"b":7,"c":8,"d":9},{"p":8,"i":23,"a":10,"b":5,"c":5,"d":7},{"p":8,"i":24,"a":9,"b":6,"c":7,"d":8},{"p":8,"i":25,"a":9,"b":4,"c":4,"d":6},{"p":8,"i":26,"a":8,"b":5,"c":6,"d":7},{"p":8,"i":27,"a":8,"b":3,"c":3,"d":5},{"p":8,"i":28,"a":7,"b":4,"c":5,"d":6},{"p":8,"i":29,"a":7,"b":2,"c":2,"d":4},{"p":8,"i":30,"a":6,"b":3,"c":4,"d":5},{"p":8,"i":31,"a":5,"b":2,"c":1,"d":3},{"p":8,"i":32,"a":4,"b":1,"c":1,"d":2},{"p":8,"i":33,"a":3,"b":1.5,"c":0.5,"d":1},{"p":8,"i":34,"a":26,"b":22,"c":28,"d":20},{"p":8,"i":35,"a":21,"b":23,"c":12,"d":15},{"p":8,"i":36,"a":18,"b":15,"c":20,"d":22},{"p":8,"i":37,"a":16,"b":9,"c":14,"d":6},{"p":8,"i":38,"a":13,"b":14,"c":6,"d":16},{"p":8,"i":39,"a":11,"b":8,"c":15,"d":13},{"p":8,"i":40,"a":9,"b":10,"c":7,"d":3},{"p":8,"i":41,"a":7,"b":9,"c":10,"d":12},{"p":8,"i":42,"a":6,"b":4,"c":8,"d":11},{"p":8,"i":43,"a":5,"b":3,"c":6,"d":8},{"p":8,"i":44,"a":4,"b":2,"c":3,"d":1},{"p":8,"i":45,"a":20,"b":12,"c":9,"d":13},
{"p":8,"i":46,"a":13.5,"b":9,"c":9,"d":9},{"p":8,"i":47,"a":12.5,"b":8.5,"c":8.5,"d":8.5},{"p":8,"i":48,"a":11.5,"b":8,"c":8,"d":8.5},{"p":8,"i":49,"a":10.5,"b":7.5,"c":7.5,"d":8},{"p":8,"i":50,"a":9.5,"b":6.5,"c":6.5,"d":7},{"p":8,"i":51,"a":8.5,"b":6,"c":6,"d":6.5},{"p":8,"i":52,"a":7.5,"b":5,"c":5,"d":6},{"p":8,"i":53,"a":6.5,"b":4.5,"c":4.5,"d":5},{"p":8,"i":54,"a":5.5,"b":4,"c":4,"d":4.5},{"p":8,"i":55,"a":4.5,"b":3,"c":3,"d":4},{"p":8,"i":56,"a":14.5,"b":10,"c":10,"d":11},{"p":8,"i":57,"a":15.5,"b":11,"c":11,"d":12},{"p":8,"i":58,"a":16.5,"b":12,"c":12,"d":13},{"p":8,"i":59,"a":17.5,"b":13,"c":13,"d":14},{"p":8,"i":60,"a":18.5,"b":14,"c":14,"d":15},{"p":8,"i":61,"a":19.5,"b":15,"c":15,"d":16},{"p":8,"i":62,"a":21,"b":16,"c":16,"d":17},{"p":8,"i":63,"a":22.5,"b":17.5,"c":17,"d":18},{"p":8,"i":64,"a":12,"b":8,"c":8,"d":9.5},{"p":8,"i":65,"a":11,"b":7,"c":7,"d":7.5},{"p":8,"i":66,"a":10,"b":7,"c":6.5,"d":7.5},{"p":8,"i":67,"a":8,"b":5.5,"c":5.5,"d":6.5},{"p":8,"i":68,"a":24,"b":20,"c":19,"d":20},{"p":8,"i":69,"a":26,"b":21,"c":21,"d":22},{"p":8,"i":70,"a":3.5,"b":2.5,"c":2,"d":3}
]},
"spacing":17,
"hconcat":[
{"title":"Adolescents","spacing":11,"hconcat":[
 {"spacing":18,"columns":1,"align":"none","concat":[
  {"width":201,"height":282,
   "encoding":{"x":{"field":"w","type":"quantitative","scale":{"domain":[0.4,14.6],"nice":false,"zero":false},"axis":{"title":"Week","values":[1,2,3,4,5,6,7,8,9,10,11,12,13,14]}},
    "y":{"field":"v","type":"quantitative","scale":{"domain":[47.6,102.4],"nice":false,"zero":false},"axis":{"title":"Positive affect intensity","values":[50,60,70,80,90,100]}}},
   "layer":[
    {"data":{"name":"g"},"transform":[{"filter":"datum.p==1"},{"fold":["a","b","c","d"],"as":["k","v"]},{"lookup":"k","from":{"data":{"name":"wk"},"key":"k","fields":["w"]}}],"mark":{"type":"line","stroke":"#cccccc","strokeWidth":0.6},"encoding":{"detail":{"field":"i","type":"nominal"}}},
    {"data":{"name":"s"},"transform":[{"filter":"datum.p==1"}],"mark":{"type":"line","strokeWidth":2.3},"encoding":{"stroke":{"field":"g","type":"nominal","scale":{"domain":["pre","mid","post"],"range":["black","red","black"]},"legend":null}}}
   ]},
  {"width":208,"height":282,
   "encoding":{"x":{"field":"w","type":"quantitative","scale":{"domain":[0.4,14.6],"nice":false,"zero":false},"axis":{"title":"Week","values":[1,2,3,4,5,6,7,8,9,10,11,12,13,14]}},
    "y":{"field":"v","type":"quantitative","scale":{"domain":[-2,41.9],"nice":false,"zero":false},"axis":{"title":"Positive affect variability","values":[0,10,20,30,40]}}},
   "layer":[
    {"data":{"name":"g"},"transform":[{"filter":"datum.p==5"},{"fold":["a","b","c","d"],"as":["k","v"]},{"lookup":"k","from":{"data":{"name":"wk"},"key":"k","fields":["w"]}}],"mark":{"type":"line","stroke":"#cccccc","strokeWidth":0.6},"encoding":{"detail":{"field":"i","type":"nominal"}}},
    {"data":{"name":"s"},"transform":[{"filter":"datum.p==5"}],"mark":{"type":"line","strokeWidth":2.3},"encoding":{"stroke":{"field":"g","type":"nominal","scale":{"domain":["pre","mid","post"],"range":["black","red","black"]},"legend":null}}},
    {"data":{"name":"t"},"transform":[{"filter":"datum.p==5"}],"mark":{"type":"text","text":"*","fontSize":28,"dy":7},"encoding":{"fill":{"field":"c","type":"nominal","scale":null}}}
   ]}
 ]},
 {"spacing":18,"columns":1,"align":"none","concat":[
  {"width":207,"height":282,
   "encoding":{"x":{"field":"w","type":"quantitative","scale":{"domain":[0.4,14.6],"nice":false,"zero":false},"axis":{"title":"Week","values":[1,2,3,4,5,6,7,8,9,10,11,12,13,14]}},
    "y":{"field":"v","type":"quantitative","scale":{"domain":[-2,41.7],"nice":false,"zero":false},"axis":{"title":"Negative affect intensity","values":[0,10,20,30,40]}}},
   "layer":[
    {"data":{"name":"g"},"transform":[{"filter":"datum.p==2"},{"fold":["a","b","c","d"],"as":["k","v"]},{"lookup":"k","from":{"data":{"name":"wk"},"key":"k","fields":["w"]}}],"mark":{"type":"line","stroke":"#cccccc","strokeWidth":0.6},"encoding":{"detail":{"field":"i","type":"nominal"}}},
    {"data":{"name":"s"},"transform":[{"filter":"datum.p==2"}],"mark":{"type":"line","strokeWidth":2.3},"encoding":{"stroke":{"field":"g","type":"nominal","scale":{"domain":["pre","mid","post"],"range":["black","red","black"]},"legend":null}}},
    {"data":{"name":"t"},"transform":[{"filter":"datum.p==2"}],"mark":{"type":"text","text":"*","fontSize":28,"dy":7},"encoding":{"fill":{"field":"c","type":"nominal","scale":null}}}
   ]},
  {"width":207,"height":282,
   "encoding":{"x":{"field":"w","type":"quantitative","scale":{"domain":[0.4,14.6],"nice":false,"zero":false},"axis":{"title":"Week","values":[1,2,3,4,5,6,7,8,9,10,11,12,13,14]}},
    "y":{"field":"v","type":"quantitative","scale":{"domain":[-2,41.9],"nice":false,"zero":false},"axis":{"title":"Negative affect variability","values":[0,10,20,30,40]}}},
   "layer":[
    {"data":{"name":"g"},"transform":[{"filter":"datum.p==6"},{"fold":["a","b","c","d"],"as":["k","v"]},{"lookup":"k","from":{"data":{"name":"wk"},"key":"k","fields":["w"]}}],"mark":{"type":"line","stroke":"#cccccc","strokeWidth":0.6},"encoding":{"detail":{"field":"i","type":"nominal"}}},
    {"data":{"name":"s"},"transform":[{"filter":"datum.p==6"}],"mark":{"type":"line","strokeWidth":2.3},"encoding":{"stroke":{"field":"g","type":"nominal","scale":{"domain":["pre","mid","post"],"range":["black","red","black"]},"legend":null}}},
    {"data":{"name":"t"},"transform":[{"filter":"datum.p==6"}],"mark":{"type":"text","text":"*","fontSize":28,"dy":7},"encoding":{"fill":{"field":"c","type":"nominal","scale":null}}}
   ]}
 ]}
]},
{"title":"Parents","spacing":11,"hconcat":[
 {"spacing":18,"columns":1,"align":"none","concat":[
  {"width":200,"height":282,
   "encoding":{"x":{"field":"w","type":"quantitative","scale":{"domain":[0.4,14.6],"nice":false,"zero":false},"axis":{"title":"Week","values":[1,2,3,4,5,6,7,8,9,10,11,12,13,14]}},
    "y":{"field":"v","type":"quantitative","scale":{"domain":[47.6,102.4],"nice":false,"zero":false},"axis":{"title":"Positive affect intensity","values":[50,60,70,80,90,100]}}},
   "layer":[
    {"data":{"name":"g"},"transform":[{"filter":"datum.p==3"},{"fold":["a","b","c","d"],"as":["k","v"]},{"lookup":"k","from":{"data":{"name":"wk"},"key":"k","fields":["w"]}}],"mark":{"type":"line","stroke":"#cccccc","strokeWidth":0.6},"encoding":{"detail":{"field":"i","type":"nominal"}}},
    {"data":{"name":"s"},"transform":[{"filter":"datum.p==3"}],"mark":{"type":"line","strokeWidth":2.3},"encoding":{"stroke":{"field":"g","type":"nominal","scale":{"domain":["pre","mid","post"],"range":["black","red","black"]},"legend":null}}},
    {"data":{"name":"t"},"transform":[{"filter":"datum.p==3"}],"mark":{"type":"text","text":"*","fontSize":28,"dy":7},"encoding":{"fill":{"field":"c","type":"nominal","scale":null}}}
   ]},
  {"width":206,"height":282,
   "encoding":{"x":{"field":"w","type":"quantitative","scale":{"domain":[0.4,14.6],"nice":false,"zero":false},"axis":{"title":"Week","values":[1,2,3,4,5,6,7,8,9,10,11,12,13,14]}},
    "y":{"field":"v","type":"quantitative","scale":{"domain":[-2,41.9],"nice":false,"zero":false},"axis":{"title":"Positive affect variability","values":[0,10,20,30,40]}}},
   "layer":[
    {"data":{"name":"g"},"transform":[{"filter":"datum.p==7"},{"fold":["a","b","c","d"],"as":["k","v"]},{"lookup":"k","from":{"data":{"name":"wk"},"key":"k","fields":["w"]}}],"mark":{"type":"line","stroke":"#cccccc","strokeWidth":0.6},"encoding":{"detail":{"field":"i","type":"nominal"}}},
    {"data":{"name":"s"},"transform":[{"filter":"datum.p==7"}],"mark":{"type":"line","strokeWidth":2.3},"encoding":{"stroke":{"field":"g","type":"nominal","scale":{"domain":["pre","mid","post"],"range":["black","red","black"]},"legend":null}}},
    {"data":{"name":"t"},"transform":[{"filter":"datum.p==7"}],"mark":{"type":"text","text":"*","fontSize":28,"dy":7},"encoding":{"fill":{"field":"c","type":"nominal","scale":null}}}
   ]}
 ]},
 {"spacing":18,"columns":1,"align":"none","concat":[
  {"width":208,"height":282,
   "encoding":{"x":{"field":"w","type":"quantitative","scale":{"domain":[0.4,14.6],"nice":false,"zero":false},"axis":{"title":"Week","values":[1,2,3,4,5,6,7,8,9,10,11,12,13,14]}},
    "y":{"field":"v","type":"quantitative","scale":{"domain":[-2,42],"nice":false,"zero":false},"axis":{"title":"Negative affect intensity","values":[0,10,20,30,40]}}},
   "layer":[
    {"data":{"name":"g"},"transform":[{"filter":"datum.p==4"},{"fold":["a","b","c","d"],"as":["k","v"]},{"lookup":"k","from":{"data":{"name":"wk"},"key":"k","fields":["w"]}}],"mark":{"type":"line","stroke":"#cccccc","strokeWidth":0.6},"encoding":{"detail":{"field":"i","type":"nominal"}}},
    {"data":{"name":"s"},"transform":[{"filter":"datum.p==4"}],"mark":{"type":"line","strokeWidth":2.3},"encoding":{"stroke":{"field":"g","type":"nominal","scale":{"domain":["pre","mid","post"],"range":["black","red","black"]},"legend":null}}},
    {"data":{"name":"t"},"transform":[{"filter":"datum.p==4"}],"mark":{"type":"text","text":"*","fontSize":28,"dy":7},"encoding":{"fill":{"field":"c","type":"nominal","scale":null}}}
   ]},
  {"width":208,"height":282,
   "encoding":{"x":{"field":"w","type":"quantitative","scale":{"domain":[0.4,14.6],"nice":false,"zero":false},"axis":{"title":"Week","values":[1,2,3,4,5,6,7,8,9,10,11,12,13,14]}},
    "y":{"field":"v","type":"quantitative","scale":{"domain":[-2,42],"nice":false,"zero":false},"axis":{"title":"Negative affect variability","values":[0,10,20,30,40]}}},
   "layer":[
    {"data":{"name":"g"},"transform":[{"filter":"datum.p==8"},{"fold":["a","b","c","d"],"as":["k","v"]},{"lookup":"k","from":{"data":{"name":"wk"},"key":"k","fields":["w"]}}],"mark":{"type":"line","stroke":"#cccccc","strokeWidth":0.6},"encoding":{"detail":{"field":"i","type":"nominal"}}},
    {"data":{"name":"s"},"transform":[{"filter":"datum.p==8"}],"mark":{"type":"line","strokeWidth":2.3},"encoding":{"stroke":{"field":"g","type":"nominal","scale":{"domain":["pre","mid","post"],"range":["black","red","black"]},"legend":null}}},
    {"data":{"name":"t"},"transform":[{"filter":"datum.p==8"}],"mark":{"type":"text","text":"*","fontSize":28,"dy":7},"encoding":{"fill":{"field":"c","type":"nominal","scale":null}}}
   ]}
 ]}
]}
]
}
